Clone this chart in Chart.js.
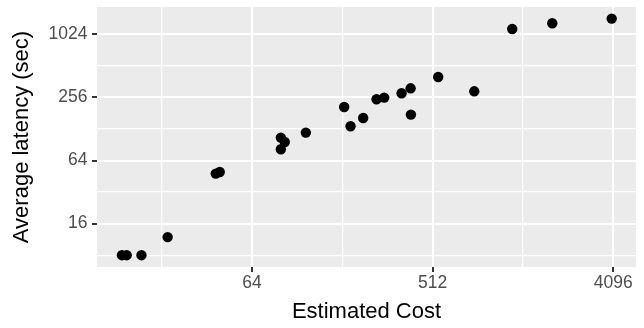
<!DOCTYPE html>
<html>
<head>
<meta charset="utf-8">
<script src="https://cdn.jsdelivr.net/npm/chart.js@4"></script>
<style>
  html, body { margin: 0; padding: 0; background: #fff; }
  #wrap { width: 644px; height: 328px; position: relative; }
</style>
</head>
<body>
<div id="wrap"><canvas id="chart"></canvas></div>
<script>
// estimated cost vs average latency, both on log2 axes
const costs     = [14.3, 15.1, 17.9, 24.2, 42.1, 44.1, 89.1, 93.2, 89.1, 118.8, 184.7, 198.8, 229.9, 268.2, 292.9, 357.8, 397, 398.4, 545.3, 826, 1279, 2028, 4020];
const latencies = [8, 8, 8, 11.9, 48.0, 49.7, 105.9, 96.1, 81.9, 118.1, 207.4, 135.7, 162.8, 245.6, 254.9, 280.2, 312.6, 175.4, 400.8, 292.7, 1150, 1304, 1446];

const xTicks = [64, 512, 4096];
const yTicks = [16, 64, 256, 1024];
const xRange = [10.73, 5318];
const yRange = [6.17, 1865];

const PANEL = '#EBEBEB';
const TICK_TXT = '#4D4D4D';

Chart.defaults.font.family = "'Liberation Sans', Arial, sans-serif";

// major breaks plus ggplot-style minor breaks halfway between them (log space)
function withMinor(major, lo, hi) {
  const out = [];
  const step = major.length > 1 ? major[1] / major[0] : 4;
  const first = major[0] / step;
  for (let v = first; v <= major[major.length - 1] * step; v *= step) {
    const mid = v * Math.sqrt(step);
    if (v >= lo && v <= hi) out.push({ value: v, major: major.includes(v) });
    if (mid >= lo && mid <= hi) out.push({ value: mid, major: false });
  }
  return out;
}

const isMajor = (list, v) => list.some(t => Math.abs(t - v) / t < 1e-6);

const panelBg = {
  id: 'panelBg',
  beforeDraw(chart) {
    const { ctx, chartArea: a } = chart;
    ctx.save();
    ctx.fillStyle = '#fff';
    ctx.fillRect(0, 0, chart.width, chart.height);
    ctx.fillStyle = PANEL;
    ctx.fillRect(a.left, a.top, a.right - a.left, a.bottom - a.top);
    ctx.restore();
  },
};

function axis(list, range, title, titlePad, labelPad, fitFn) {
  return {
    type: 'logarithmic',
    min: range[0],
    max: range[1],
    bounds: 'data',
    afterBuildTicks: s => { s.ticks = withMinor(list, range[0], range[1]); },
    afterFit: s => {
      fitFn(s);
      // keep the panel where ggplot puts it, labels may overhang
      s.paddingTop = 0; s.paddingBottom = 0;
      s.paddingLeft = 0; s.paddingRight = 0;
    },
    border: { display: false },
    grid: {
      color: '#fff',
      lineWidth: c => (c.tick && isMajor(list, c.tick.value)) ? 2 : 1.2,
      tickColor: c => (c.tick && isMajor(list, c.tick.value)) ? '#333' : 'rgba(0,0,0,0)',
      tickWidth: 2,
      tickLength: 5,
      drawTicks: true,
    },
    ticks: {
      autoSkip: false,
      maxRotation: 0,
      padding: labelPad,
      color: TICK_TXT,
      font: { size: 17.5 },
      callback: v => isMajor(list, v) ? String(Math.round(v)) : '',
    },
    title: {
      display: true,
      text: title,
      color: '#000',
      font: { size: 22 },
      padding: titlePad,
    },
  };
}

new Chart(document.getElementById('chart'), {
  type: 'scatter',
  data: {
    datasets: [{
      data: costs.map((c, i) => ({ x: c, y: latencies[i] })),
      backgroundColor: '#000',
      borderWidth: 0,
      pointRadius: 5.2,
      pointHoverRadius: 5.2,
    }],
  },
  options: {
    responsive: true,
    maintainAspectRatio: false,
    animation: false,
    layout: { padding: { left: 0, right: 8, top: 7, bottom: 0 } },
    plugins: { legend: { display: false }, tooltip: { enabled: false } },
    events: [],
    scales: {
      x: axis(xTicks, xRange, 'Estimated Cost', { top: 0, bottom: 2.4 }, 1, s => { s.height = 61; }),
      y: axis(yTicks, yRange, 'Average latency (sec)', { top: 8.5, bottom: 0 }, 4.5, s => { s.width = 97; }),
    },
  },
  plugins: [panelBg],
});
</script>
</body>
</html>
